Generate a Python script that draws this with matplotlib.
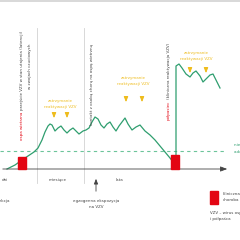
import numpy as np
import matplotlib.pyplot as plt

# curve points (pixel coords, y down)
curve_x = [7, 15, 22, 28, 34, 38, 42, 45, 48, 50, 52, 55, 58, 61, 64, 67, 70, 73, 76, 79, 83, 86,
           89, 92, 95, 98, 101, 104, 107, 110, 113, 116, 119, 122, 125, 128, 132, 136, 140, 145,
           150, 155, 160, 165, 170, 173]
curve_y = [169, 165, 160, 156, 152, 148, 140, 132, 126, 124, 125, 131, 128, 126, 130, 133, 130,
           128, 131, 134, 131, 130, 128, 122, 117, 119, 125, 128, 124, 122, 127, 131, 126, 122,
           118, 124, 130, 127, 125, 131, 135, 140, 146, 152, 158, 162]
curve2_x = [176, 176, 179, 182, 186, 190, 193, 196, 200, 203, 207, 210, 213, 217, 220]
curve2_y = [158, 66, 64, 68, 74, 77, 73, 71, 76, 82, 78, 75, 74, 82, 88]

vlines_x = [37, 84]
axis_labels = ["dni", "miesiące", "lata"]
axis_label_x = [5, 58, 119]

yellow_text = "zatrzymanie\nreaktywacji VZV"
yellow_groups = [(60, 104), (133, 81), (196, 56)]
yellow_arrows = [(54, 67, 111, 121), (126, 142, 95, 105), (190, 206, 67, 76)]

green = "#2f9e6f"
red = "#e30613"
yellow = "#eebc1d"
dark = "#444444"
grey = "#d2d2d2"

fig = plt.figure(figsize=(2.4, 2.4), dpi=100)
ax = fig.add_axes([0, 0, 1, 1])
ax.set_xlim(0, 240)
ax.set_ylim(240, 0)
ax.axis("off")

ax.axhline(0.6, color=grey, lw=1.2)
for x in vlines_x:
    ax.plot([x, x], [28, 183], color=grey, lw=0.6)

# axis with arrow
ax.annotate("", xy=(230, 169), xytext=(0, 169),
            arrowprops=dict(arrowstyle="-|>,head_width=0.15,head_length=0.4", color=dark, lw=0.6))
ax.plot([0, 225], [151, 151], color="#6cc49a", lw=0.8, ls=(0, (3, 3)))

ax.plot(curve_x, curve_y, color=green, lw=0.9)
ax.plot(curve2_x, curve2_y, color=green, lw=0.9)

ax.add_patch(plt.Rectangle((18, 157), 8, 12, color=red, zorder=3))
ax.add_patch(plt.Rectangle((171, 155), 8, 14, color=red, zorder=3))
ax.add_patch(plt.Rectangle((210, 191), 8, 13, color=red, zorder=3))

fs = 2.9
for lab, x in zip(axis_labels, axis_label_x):
    ax.text(x, 180, lab, fontsize=fs, color=dark, ha="center", va="center")
ax.text(10, 201, "pierwotna infekcja", fontsize=fs, color=dark, ha="right", va="center")

ax.annotate("", xy=(96, 176), xytext=(96, 194),
            arrowprops=dict(arrowstyle="-|>,head_width=0.12,head_length=0.3", color=dark, lw=0.6))
ax.text(96, 204, "egzogenna ekspozycja\nna VZV", fontsize=fs, color=dark, ha="center", va="center",
        linespacing=1.4)

for (x, y) in yellow_groups:
    ax.text(x, y, yellow_text, fontsize=fs, color=yellow, ha="center", va="center", linespacing=1.4)
for (x1, x2, y1, y2) in yellow_arrows:
    for x in (x1, x2):
        ax.annotate("", xy=(x, y2), xytext=(x, y1),
                    arrowprops=dict(arrowstyle="-|>,head_width=0.12,head_length=0.3", color=yellow, lw=0.8))


# vertical labels: red part first, dark part continues above it
def two_tone(x, y0, red_part, dark_part):
    t = ax.text(x, y0, red_part, fontsize=fs, color=red, rotation=90, ha="center", va="bottom")
    fig.canvas.draw()
    bb = t.get_window_extent().transformed(ax.transData.inverted())
    top = min(bb.y0, bb.y1)
    ax.text(x, top - 1.5, dark_part, fontsize=fs, color=dark, rotation=90, ha="center", va="bottom")


two_tone(22, 140, "ospa wietrzna", "przejście VZV w stan utajenia (latencji)")
ax.text(30, 66, "w zwojach czuciowych", fontsize=fs, color=dark, rotation=90, ha="center", va="center")
ax.text(92, 84, "kontakt z osobą chorą na ospę wietrzną", fontsize=fs, color=dark, rotation=90,
        ha="center", va="center")
two_tone(169, 120, "półpasiec", "(kliniczna reaktywacja VZV)")

ax.text(234, 145, "niezbędny poziom", fontsize=fs, color=green, ha="left", va="center")
ax.text(234, 152, "adekwatnej odporności", fontsize=fs, color=green, ha="left", va="center")

ax.text(223, 197, "kliniczna\nchoroba", fontsize=fs, color=dark, ha="left", va="center", linespacing=1.4)
ax.text(210, 216, "VZV – wirus ospy wietrznej\ni półpaśca", fontsize=fs, color=dark, ha="left",
        va="center", linespacing=1.6)

fig.savefig("out.png", dpi=100)
